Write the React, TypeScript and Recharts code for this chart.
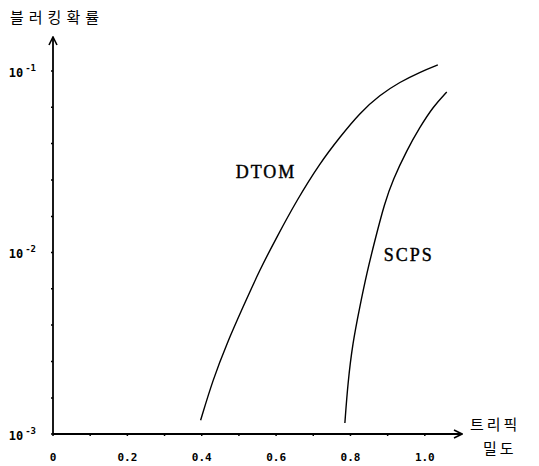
import React from "react";
import {
  LineChart,
  Line,
  XAxis,
  YAxis,
  ReferenceDot,
  Label,
} from "recharts";

// DTOM curve (traffic density vs blocking probability)
const dtomX = [
  0.397, 0.43, 0.468, 0.511, 0.556, 0.602, 0.656, 0.718, 0.772, 0.825, 0.879,
  0.933, 0.987, 1.035,
];
const dtomY = [
  0.00119, 0.00199, 0.00317, 0.00501, 0.00802, 0.01217, 0.01945, 0.0311,
  0.0433, 0.0587, 0.0738, 0.0869, 0.0986, 0.108,
];

// SCPS curve
const scpsX = [
  0.785, 0.793, 0.806, 0.825, 0.844, 0.866, 0.892, 0.914, 0.952, 0.987, 1.022,
  1.059,
];
const scpsY = [
  0.00115, 0.00191, 0.00317, 0.00501, 0.00771, 0.01172, 0.01874, 0.0251,
  0.0367, 0.0491, 0.0634, 0.0766,
];

const xTicks = [0, 0.1, 0.2, 0.3, 0.4, 0.5, 0.6, 0.7, 0.8, 0.9, 1.0];
const xTickLabels: Record<string, string> = {
  "0": "0",
  "0.2": "0.2",
  "0.4": "0.4",
  "0.6": "0.6",
  "0.8": "0.8",
  "1": "1.0",
};

const yTicks = [
  0.001, 0.00158, 0.00251, 0.00398, 0.00631, 0.01, 0.0158, 0.0251, 0.0398,
  0.0631, 0.1,
];
const yTickExp: Record<string, string> = {
  "0.001": "-3",
  "0.01": "-2",
  "0.1": "-1",
};

const dtomData = dtomX.map((x, i) => ({ x, y: dtomY[i] }));
const scpsData = scpsX.map((x, i) => ({ x, y: scpsY[i] }));

const monoFont = "'DejaVu Sans Mono', monospace";
const krFont = "'Noto Sans CJK KR', sans-serif";
const serifFont = "'Liberation Serif', serif";

function YTick(props: any) {
  const { x, y, payload } = props;
  const exp = yTickExp[String(payload.value)];
  if (!exp) return null;
  return (
    <text
      x={x - 13}
      y={y + 6}
      textAnchor="end"
      fontFamily={monoFont}
      fontWeight="bold"
      fontSize={12}
      fill="#000"
    >
      <tspan>10</tspan>
      <tspan dx={2} dy={-6} fontSize={9}>
        {exp}
      </tspan>
    </text>
  );
}

function XTick(props: any) {
  const { x, y, payload } = props;
  const label = xTickLabels[String(payload.value)];
  if (!label) return null;
  return (
    <text
      x={x}
      y={y + 23}
      textAnchor="middle"
      fontFamily={monoFont}
      fontWeight="bold"
      fontSize={11}
      fill="#000"
    >
      {label}
    </text>
  );
}

const curveLabel = {
  position: "center" as const,
  fontFamily: serifFont,
  fontSize: 18,
  letterSpacing: 2,
  fill: "#000",
  stroke: "#000",
  strokeWidth: 0.4,
};

export default function App() {
  return (
    <div style={{ position: "absolute", left: 0, top: 0, background: "#fff" }}>
      <svg width={0} height={0} style={{ position: "absolute" }}>
        <defs>
          <marker
            id="arrowHead"
            viewBox="0 0 10 10"
            refX="9"
            refY="5"
            markerWidth="10"
            markerHeight="10"
            markerUnits="userSpaceOnUse"
            orient="auto-start-reverse"
          >
            <path d="M1,1 L9,5 L1,9" fill="none" stroke="#000" strokeWidth={1.6} />
          </marker>
        </defs>
      </svg>
      <LineChart
        width={539}
        height={466}
        margin={{ top: 37, right: 77, left: 0, bottom: 0 }}
      >
        <XAxis
          type="number"
          dataKey="x"
          domain={[0, 1.1]}
          ticks={xTicks}
          interval={0}
          height={32}
          allowDataOverflow
          axisLine={{ stroke: "#000", strokeWidth: 1.8, markerEnd: "url(#arrowHead)" }}
          tickLine={{ stroke: "#000", strokeWidth: 1.5 }}
          tickSize={2}
          tick={<XTick />}
        >
          <Label
            content={() => (
              <g fontFamily={krFont} fontSize={15} fill="#000">
                <text x={470} y={430} letterSpacing={3}>
                  트리픽
                </text>
                <text x={483} y={454} letterSpacing={3}>
                  밀도
                </text>
              </g>
            )}
          />
        </XAxis>
        <YAxis
          type="number"
          dataKey="y"
          scale="log"
          domain={[0.001, 0.1538]}
          ticks={yTicks}
          interval={0}
          width={53}
          allowDataOverflow
          axisLine={{ stroke: "#000", strokeWidth: 1.8, markerStart: "url(#arrowHead)" }}
          tickLine={{ stroke: "#000", strokeWidth: 1.5 }}
          tickSize={2}
          tick={<YTick />}
        >
          <Label
            content={() => (
              <text
                x={10}
                y={23}
                fontFamily={krFont}
                fontSize={15}
                letterSpacing={5}
                fill="#000"
              >
                블러킹확률
              </text>
            )}
          />
        </YAxis>
        <Line
          data={dtomData}
          dataKey="y"
          type="basis"
          stroke="#000"
          strokeWidth={1.4}
          dot={false}
          isAnimationActive={false}
        />
        <Line
          data={scpsData}
          dataKey="y"
          type="basis"
          stroke="#000"
          strokeWidth={1.4}
          dot={false}
          isAnimationActive={false}
        />
        <ReferenceDot
          x={0.573}
          y={0.0278}
          r={0}
          label={{ value: "DTOM", ...curveLabel }}
        />
        <ReferenceDot
          x={0.957}
          y={0.0097}
          r={0}
          label={{ value: "SCPS", ...curveLabel }}
        />
      </LineChart>
    </div>
  );
}
